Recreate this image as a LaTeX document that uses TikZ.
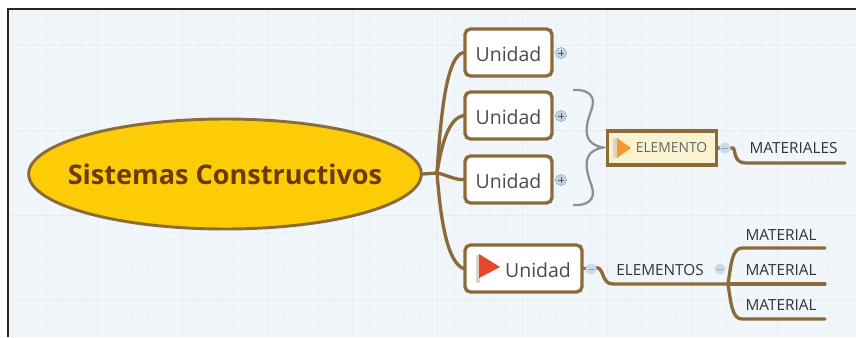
\documentclass[tikz,border=0pt]{standalone}
\usepackage{fontspec}
\setmainfont{Open Sans}
\usetikzlibrary{shapes.geometric,calc}
\definecolor{bgc}{HTML}{F1F6FA}
\definecolor{gridminor}{HTML}{ECF2F6}
\definecolor{gridmajor}{HTML}{E6EDF2}
\definecolor{brownline}{HTML}{8C6B3A}
\definecolor{rootfill}{HTML}{FCCD06}
\definecolor{roottext}{HTML}{6B3A08}
\definecolor{txt}{HTML}{4A4A4A}
\definecolor{elemfill}{HTML}{FBF3D0}
\definecolor{iconfill}{HTML}{C3D5E6}
\definecolor{iconline}{HTML}{8FA9C2}
\definecolor{bracec}{HTML}{8E9194}
\definecolor{flagred}{HTML}{E8452A}
\definecolor{flagorange}{HTML}{F29A2E}
\definecolor{polec}{HTML}{D9D5CC}
\newcommand{\unitlabel}{\raisebox{-1pt}[\height][\depth]{Unidad}}
\tikzset{
  x=0.75pt,y=-0.75pt,
  rootnode/.style={ellipse,draw=brownline,line width=2.2pt,fill=rootfill,minimum width=294.5pt,minimum height=82.5pt,inner sep=0pt,text=roottext,font=\bfseries\fontsize{20.3pt}{22pt}\selectfont},
  unitbox/.style={rectangle,rounded corners=4pt,draw=brownline,line width=2.5pt,fill=white,minimum height=35.2pt,inner sep=0pt,text=txt,font=\fontsize{14.6pt}{18pt}\selectfont},
  elembox/.style={rectangle,draw=brownline,line width=2.6pt,fill=elemfill,minimum width=81.5pt,minimum height=25.5pt,inner sep=0pt,text=txt!85!white,font=\fontsize{10.4pt}{12pt}\selectfont},
  leaf/.style={inner sep=0pt,text=black!80,font=\fontsize{11.5pt}{14pt}\selectfont},
  conn/.style={draw=brownline,line width=2.5pt,line cap=round},
  expander/.style={circle,draw=iconline,line width=0.4pt,fill=iconfill,minimum size=8.4pt,inner sep=0pt},
  signmark/.style={draw=black!65,line width=0.5pt},
  bracecurve/.style={draw=bracec,line width=1.7pt},
}
\begin{document}
\begin{tikzpicture}
\useasboundingbox (0,0) rectangle (856,337);
\fill[white] (0,0) rectangle (856,337);
\fill[bgc] (8,9) rectangle (856,337);
\foreach \g in {29,46,63,80,114,131,148,165,199,216,233,250,284,301,318,335,369,386,403,420,454,471,488,505,539,556,573,590,624,641,658,675,709,726,743,760,794,811,828,845}
  \draw[gridminor,line width=0.5pt] (\g,9) -- (\g,337);
\foreach \g in {28,62,79,96,113,147,164,181,198,232,249,266,283,317,334}
  \draw[gridminor,line width=0.5pt] (8,\g) -- (856,\g);
\foreach \g in {12,97,182,267,352,437,522,607,692,777}
  \draw[gridmajor,line width=0.6pt] (\g,9) -- (\g,337);
\foreach \g in {45,130,215,300}
  \draw[gridmajor,line width=0.6pt] (8,\g) -- (856,\g);
\draw[black!85,line width=0.8pt] (8,337) -- (8,9) -- (856,9);

\node[rootnode] (root) at (225,174) {\makebox[0pt][c]{Sistemas Constructivos}};
\node[unitbox,minimum width=65.2pt] (u1) at (508.5,52.5) {\unitlabel};
\node[unitbox,minimum width=65.2pt] (u2) at (508.5,115.5) {\unitlabel};
\node[unitbox,minimum width=65.2pt] (u3) at (508.5,179.5) {\unitlabel};
\node[unitbox,minimum width=87.7pt] (u4) at (523.5,268.5) {\hspace*{21.8pt}\unitlabel};
\node[elembox] (el) at (662,148) {\hspace*{14.3pt}ELEMENTO};

\node[leaf] (mts) at (793.5,148.5) {MATERIALES};
\node[leaf] (els) at (660,270) {ELEMENTOS};
\node[leaf] (m1) at (781,235) {MATERIAL};
\node[leaf] (m2) at (781,270) {MATERIAL};
\node[leaf] (m3) at (781,305) {MATERIAL};

\coordinate (hub) at (437,173);
\coordinate (mtsend) at (845,163);
\coordinate (split) at (728,284);
\coordinate (e1) at (825,248);
\coordinate (e2) at (825,284);
\coordinate (e3) at (825,319);

\draw[conn] (root.east) -- (hub);
\draw[conn] (hub) .. controls (441,110) and (447,56) .. (u1.west);
\draw[conn] (hub) .. controls (442,140) and (450,118) .. (u2.west);
\draw[conn] (hub) .. controls (447,175) and (455,180) .. (u3.west);
\draw[conn] (hub) .. controls (441,225) and (448,262) .. (u4.west);

\draw[conn] (u4.east) -- (598,268) .. controls (604,270) and (602,284) .. (613,284) -- (split);
\draw[conn] (el.east) -- (733,148) .. controls (736,150) and (733,163) .. (746,163) -- (mtsend);
\draw[conn] (split) -- (e2);
\draw[conn] (split) .. controls (731,265) and (732,248) .. (742,248) -- (e1);
\draw[conn] (split) .. controls (731,303) and (732,319) .. (742,319) -- (e3);

\node[expander] (p1) at (561,53) {};
\node[expander] (p2) at (561,116) {};
\node[expander] (p3) at (561,180) {};
\foreach \p in {p1,p2,p3}{
  \draw[signmark] ($(\p)+(-3.2,0)$) -- ($(\p)+(3.2,0)$);
  \draw[signmark] ($(\p)+(0,-3.2)$) -- ($(\p)+(0,3.2)$);
}
\node[expander,fill=iconfill!85!white,draw=none] (q1) at (591,269) {};
\node[expander,fill=iconfill!85!white,draw=none] (q2) at (725,148) {};
\node[expander,fill=iconfill!85!white,draw=none] (q3) at (720,269) {};
\foreach \p in {q1,q2,q3}
  \draw[iconline,line width=0.6pt] ($(\p)+(-3.2,0)$) -- ($(\p)+(3.2,0)$);

\coordinate (bt) at (573,90);
\coordinate (bm) at (603,147.5);
\coordinate (bb) at (573,205);
\draw[bracecurve] (bt) .. controls (587,89) and (596,95) .. (592,108)
  .. controls (588,120) and (578,143) .. (bm)
  .. controls (578,152) and (588,175) .. (592,187)
  .. controls (596,200) and (587,206) .. (bb);

% flags
\fill[polec] (476,255) rectangle (480,283);
\fill[flagred] (479,254) -- (500,267) -- (479,278) -- cycle;
\fill[polec] (613,138) rectangle (617,158);
\fill[flagorange] (617,138) -- (631,148) -- (617,158) -- cycle;
\end{tikzpicture}
\end{document}
